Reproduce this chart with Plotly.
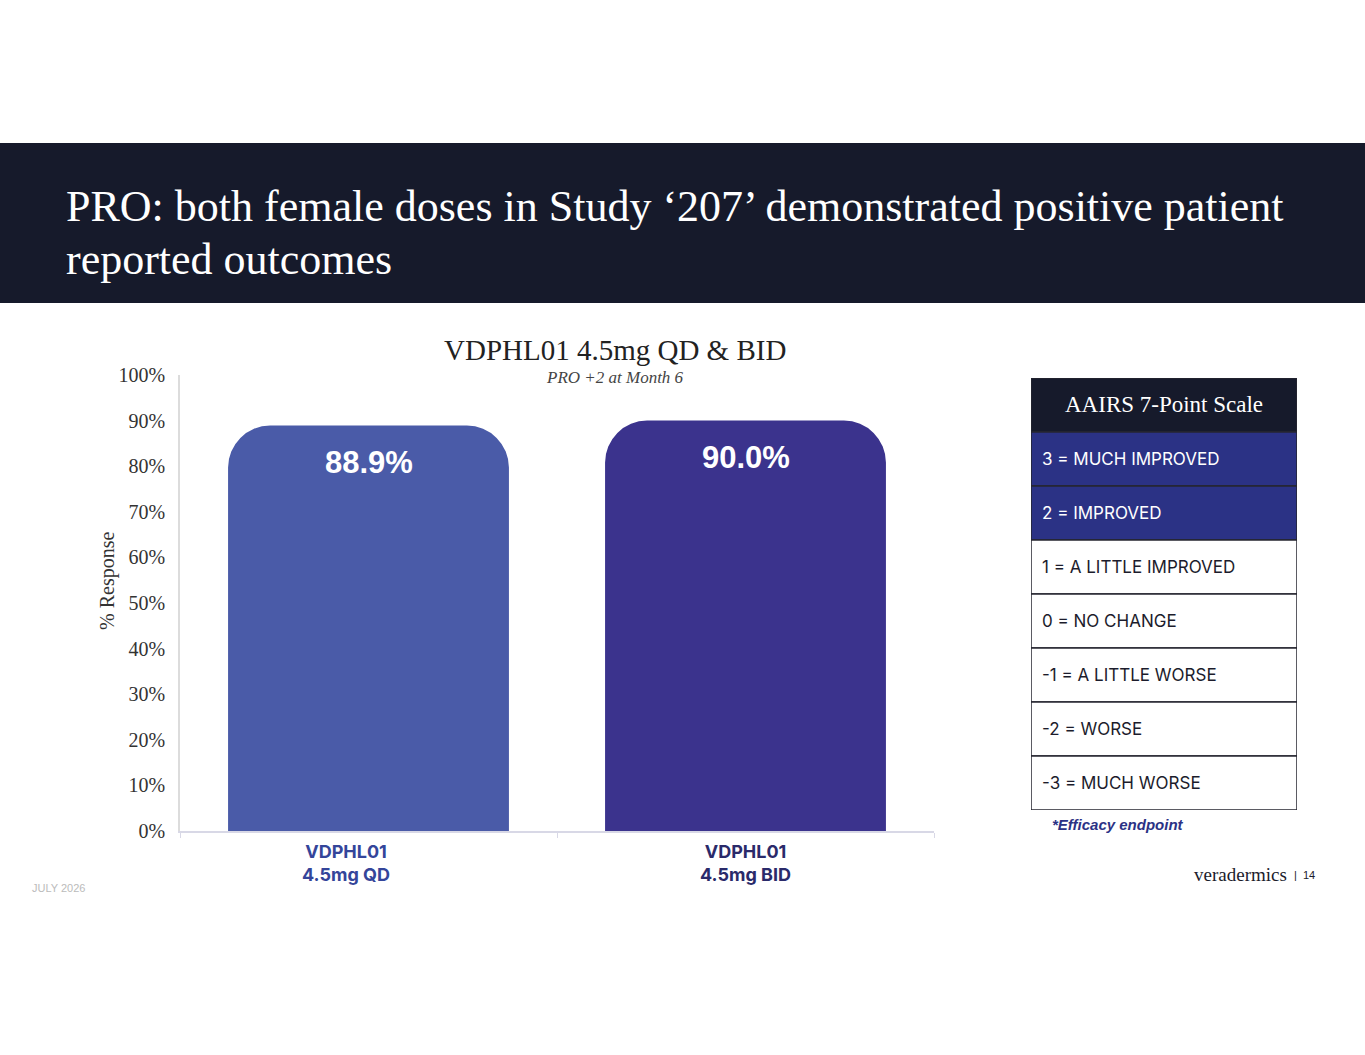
import plotly.graph_objects as go

# datos del gráfico
categorias = ["VDPHL01 4.5mg QD", "VDPHL01 4.5mg BID"]
etiquetas_x = ["VDPHL01<br>4.5mg QD", "VDPHL01<br>4.5mg BID"]
respuesta = [88.9, 90.0]
colores_barras = ["#4a5ba8", "#3b338d"]
colores_etiquetas = ["#34459a", "#2a2a6a"]
desplaz_etiquetas = [-23, 0]  # la primera etiqueta está algo corrida a la izquierda

# escala AAIRS (cabecera + filas)
escala_titulo = "AAIRS 7-Point Scale"
escala = ["3 = MUCH IMPROVED", "2 = IMPROVED", "1 = A LITTLE IMPROVED",
          "0 = NO CHANGE", "-1 = A LITTLE WORSE", "-2 = WORSE", "-3 = MUCH WORSE"]
escala_fondo = ["#2b3285", "#2b3285", "white", "white", "white", "white", "white"]
escala_texto = ["white", "white", "#1c1c2c", "#1c1c2c", "#1c1c2c", "#1c1c2c", "#1c1c2c"]

W, H = 1365, 1055
SERIF = "Liberation Serif"
SANS = "Liberation Sans"
OSCURO = "#161a2b"


def px(x):
    return x / W


def py(y):
    return 1 - y / H


def texto(x, y, t, size, color, family=SANS, xanchor="center", yanchor="middle", **kw):
    fig.add_annotation(xref="paper", yref="paper", x=px(x), y=py(y), text=t,
                       xanchor=xanchor, yanchor=yanchor, showarrow=False,
                       font=dict(family=family, size=size, color=color), **kw)


fig = go.Figure()

fig.add_trace(go.Bar(
    x=categorias, y=respuesta,
    marker=dict(color=colores_barras, cornerradius=42, line=dict(width=0)),
    hoverinfo="skip", showlegend=False,
))

# etiquetas de valor dentro de las barras
for cat, val in zip(categorias, respuesta):
    fig.add_annotation(x=cat, y=val, xref="x", yref="y", text=f"{val:.1f}%",
                       showarrow=False, yanchor="top", yshift=-17,
                       font=dict(family=SANS, size=31, color="white", weight="bold"))

# etiquetas de categoría bajo el eje
for cat, t, c, dx in zip(categorias, etiquetas_x, colores_etiquetas, desplaz_etiquetas):
    fig.add_annotation(x=cat, y=0, xref="x", yref="y", text=f"<b>{t}</b>",
                       showarrow=False, yanchor="top", yshift=-8, xshift=dx,
                       font=dict(family="Inter", size=18, color=c))

# tabla de la escala en ejes propios (una fila = 1 unidad)
filas = [escala_titulo] + escala
fondos = [OSCURO] + escala_fondo
for i, (t, fondo) in enumerate(zip(filas, fondos)):
    fig.add_shape(type="rect", xref="x2", yref="y2", x0=0, x1=1, y0=i, y1=i + 1,
                  fillcolor=fondo, line=dict(color="#262630", width=1.5))
fig.add_annotation(xref="x2", yref="y2", x=0.5, y=0.5, text=escala_titulo, showarrow=False,
                   font=dict(family=SERIF, size=23, color="white"))
for i, (t, c) in enumerate(zip(escala, escala_texto), start=1):
    fig.add_annotation(xref="x2", yref="y2", x=0.035, y=i + 0.5, text=t, showarrow=False,
                       xanchor="left", yanchor="middle",
                       font=dict(family="Inter", size=17, color=c))

# banda del título
fig.add_shape(type="rect", xref="paper", yref="paper", x0=0, x1=1,
              y0=py(303), y1=py(143), fillcolor=OSCURO, line=dict(width=0), layer="below")
texto(64, 233, "PRO: both female doses in Study ‘207’ demonstrated positive patient", 44, "white",
      family=SERIF, xanchor="left", yanchor="bottom")
texto(64, 233, "reported outcomes", 44, "white", family=SERIF, xanchor="left", yanchor="top")

# título del gráfico
texto(615, 350, "VDPHL01 4.5mg QD &amp; BID", 29, "#222222", family=SERIF)
texto(615, 377, "<i>PRO +2 at Month 6</i>", 17, "#444444", family=SERIF)

# título eje y
texto(107, 581, "% Response", 20, "#333333", family=SERIF, textangle=-90)

# pie de página
texto(30, 888, "JULY 2026", 11, "#bbbbbb", xanchor="left")
texto(1050, 824, "<b><i>*Efficacy endpoint</i></b>", 15, "#2b3285", xanchor="left")
texto(1289, 874, "veradermics", 19, "#1c1c2c", family=SERIF, xanchor="right")
texto(1292, 875, "|  14", 11, "#1c1c2c", xanchor="left")

fig.update_layout(
    width=W, height=H,
    margin=dict(l=0, r=0, t=0, b=0, autoexpand=False),
    paper_bgcolor="white", plot_bgcolor="white",
    bargap=0.255,
    xaxis=dict(domain=[px(180), px(934)], showticklabels=False,
               showline=True, linecolor="#d8d8e6", linewidth=1.5,
               ticks="outside", tickson="boundaries", ticklen=5, tickcolor="#d8d8e6",
               showgrid=False, fixedrange=True, automargin=False),
    yaxis=dict(domain=[py(831), py(375)], range=[0, 100], dtick=10, ticksuffix="%",
               showline=True, linecolor="#dcdcdc", linewidth=1.5,
               showgrid=False, zeroline=False, ticks="", ticklabelstandoff=9,
               tickfont=dict(family=SERIF, size=20, color="#333333"),
               fixedrange=True, automargin=False),
    xaxis2=dict(domain=[px(1031), px(1297)], range=[0, 1], visible=False, fixedrange=True),
    yaxis2=dict(domain=[py(810), py(378)], range=[len(filas), 0], visible=False, fixedrange=True),
)

fig.write_html("out.html", config={"displayModeBar": False},
               post_script="document.body.style.margin='0';")
